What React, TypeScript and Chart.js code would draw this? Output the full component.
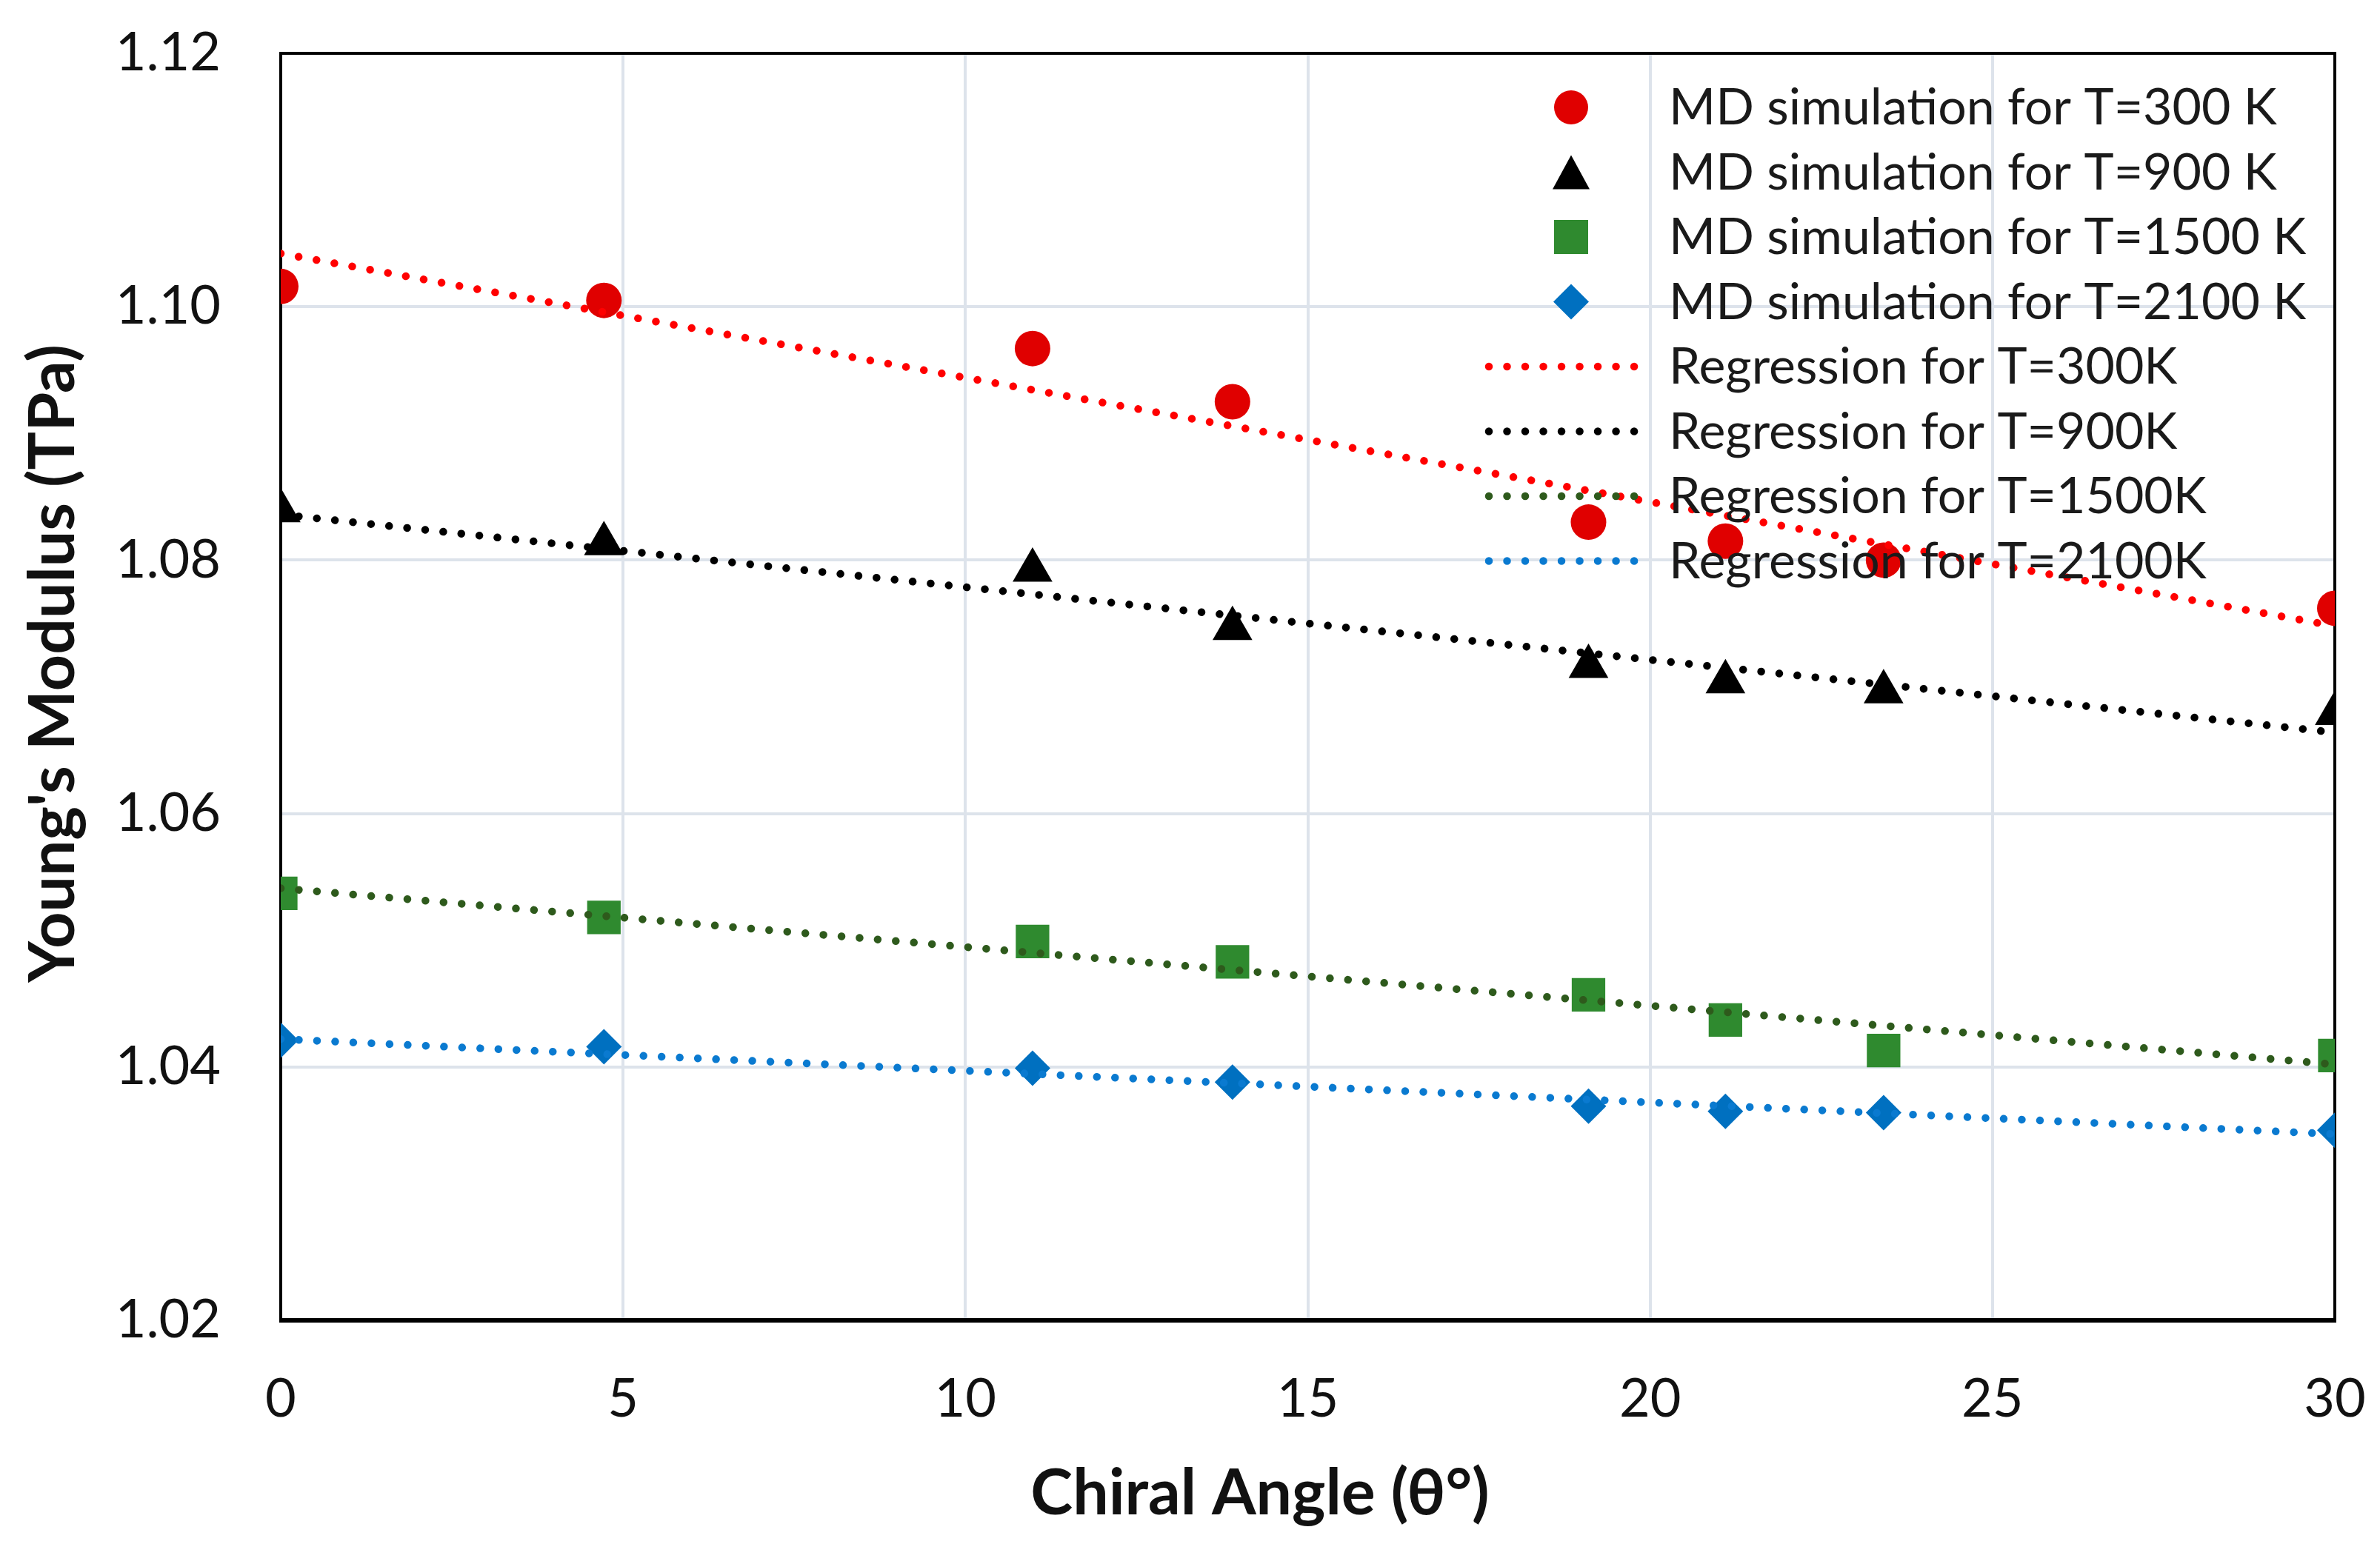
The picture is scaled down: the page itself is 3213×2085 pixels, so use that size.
import React, { useEffect, useRef } from "react";
import { Chart, registerables } from "chart.js";

Chart.register(...registerables);

const chiralAngles = [0, 4.72, 10.98, 13.9, 19.1, 21.1, 23.41, 30];
const modulus300 = [1.1016, 1.1005, 1.0967, 1.0925, 1.083, 1.0815, 1.08, 1.0762];
const modulus900 = [1.0839, 1.0813, 1.0792, 1.0746, 1.0716, 1.0704, 1.0696, 1.0679];
const modulus1500 = [1.0537, 1.0518, 1.0499, 1.0483, 1.0457, 1.0437, 1.0413, 1.0409];
const modulus2100 = [1.0421, 1.0416, 1.0399, 1.0388, 1.0369, 1.0365, 1.0364, 1.035];

const regressionX = [0, 30];
const regression300 = [1.1042, 1.0748];
const regression900 = [1.0836, 1.0664];
const regression1500 = [1.0541, 1.0402];
const regression2100 = [1.0422, 1.0347];

const xTicks = [0, 5, 10, 15, 20, 25, 30];
const yTicks = [1.02, 1.04, 1.06, 1.08, 1.1, 1.12];

const xTitle = "Chiral Angle (θ°)";
const yTitle = "Young's Modulus (TPa)";

const mdLabels = [
  "MD simulation for T=300 K",
  "MD simulation for T=900 K",
  "MD simulation for T=1500 K",
  "MD simulation for T=2100 K",
];
const regLabels = [
  "Regression for T=300K",
  "Regression for T=900K",
  "Regression for T=1500K",
  "Regression for T=2100K",
];

const FONT = "Lato, 'Open Sans', sans-serif";
const markerColors = ["#e00000", "#000000", "#2f8a2f", "#0070c0"];
const lineColors = ["#ff0000", "#000000", "#2e5a1c", "#0a7ad0"];
const markerStyles = ["circle", "triangle", "rect", "rectRot"];
const markerRadius = [24, 31, 32, 24];

const pts = (xs: number[], ys: number[]) => xs.map((x, i) => ({ x, y: ys[i] }));

function drawMarker(ctx: CanvasRenderingContext2D, style: string, x: number, y: number, color: string) {
  ctx.save();
  ctx.fillStyle = color;
  ctx.beginPath();
  if (style === "circle") {
    ctx.arc(x, y, 23, 0, Math.PI * 2);
  } else if (style === "triangle") {
    ctx.moveTo(x, y - 23);
    ctx.lineTo(x + 25, y + 23);
    ctx.lineTo(x - 25, y + 23);
    ctx.closePath();
  } else if (style === "rect") {
    ctx.rect(x - 23, y - 23, 46, 46);
  } else {
    ctx.moveTo(x, y - 24);
    ctx.lineTo(x + 24, y);
    ctx.lineTo(x, y + 24);
    ctx.lineTo(x - 24, y);
    ctx.closePath();
  }
  ctx.fill();
  ctx.restore();
}

const boxPlugin = {
  id: "boxPlugin",
  beforeDatasetsDraw(chart: any) {
    const { ctx, chartArea } = chart;
    ctx.save();
    ctx.strokeStyle = "#000";
    ctx.lineWidth = 4;
    ctx.strokeRect(chartArea.left, chartArea.top, chartArea.right - chartArea.left, chartArea.bottom - chartArea.top);
    ctx.lineWidth = 6;
    ctx.beginPath();
    ctx.moveTo(chartArea.left - 2, chartArea.bottom);
    ctx.lineTo(chartArea.right + 2, chartArea.bottom);
    ctx.stroke();
    ctx.restore();
  },
};

const titlePlugin = {
  id: "axisTitles",
  afterDraw(chart: any) {
    const { ctx } = chart;
    ctx.save();
    ctx.font = `bold 86px ${FONT}`;
    ctx.fillStyle = "#111";
    ctx.textAlign = "center";
    ctx.textBaseline = "middle";
    ctx.fillText(xTitle, 1701, 2017);
    ctx.translate(72, 896);
    ctx.rotate(-Math.PI / 2);
    ctx.fillText(yTitle, 0, 0);
    ctx.restore();
  },
};

const legendPlugin = {
  id: "customLegend",
  afterDraw(chart: any) {
    const { ctx } = chart;
    const markerX = 2121;
    const lineX0 = 2010;
    const lineX1 = 2222;
    const textX = 2253;
    const row0 = 145;
    const rowGap = 87.5;
    ctx.save();
    ctx.font = `68px ${FONT}`;
    ctx.textAlign = "left";
    ctx.textBaseline = "alphabetic";
    for (let i = 0; i < 4; i++) {
      const y = row0 + i * rowGap;
      drawMarker(ctx, markerStyles[i], markerX, y, markerColors[i]);
      ctx.fillStyle = "#1a1a1a";
      ctx.fillText(mdLabels[i], textX, y + 23);
    }
    for (let i = 0; i < 4; i++) {
      const y = row0 + (i + 4) * rowGap;
      ctx.save();
      ctx.strokeStyle = lineColors[i];
      ctx.lineWidth = 10.5;
      ctx.lineCap = "round";
      ctx.setLineDash([0.01, 24.5]);
      ctx.beginPath();
      ctx.moveTo(lineX0, y);
      ctx.lineTo(lineX1, y);
      ctx.stroke();
      ctx.restore();
      ctx.fillStyle = "#1a1a1a";
      ctx.fillText(regLabels[i], textX, y + 23);
    }
    ctx.restore();
  },
};

export default function App() {
  const canvasRef = useRef<HTMLCanvasElement | null>(null);

  useEffect(() => {
    document.body.style.margin = "0";
    const canvas = canvasRef.current;
    if (!canvas) return;
    const mdSets = [modulus300, modulus900, modulus1500, modulus2100];
    const regSets = [regression300, regression900, regression1500, regression2100];

    const datasets: any[] = [];
    regSets.forEach((ys, i) => {
      datasets.push({
        type: "line",
        label: regLabels[i],
        data: pts(regressionX, ys),
        borderColor: lineColors[i],
        borderWidth: 10.5,
        borderDash: [0.01, 24.5],
        borderCapStyle: "round",
        pointRadius: 0,
        fill: false,
        order: 0,
      });
    });
    mdSets.forEach((ys, i) => {
      datasets.push({
        type: "scatter",
        label: mdLabels[i],
        data: pts(chiralAngles, ys),
        showLine: false,
        pointStyle: markerStyles[i],
        pointRadius: markerRadius[i],
        pointBackgroundColor: markerColors[i],
        pointBorderColor: markerColors[i],
        pointBorderWidth: 0,
        order: 1,
      });
    });

    const chart = new Chart(canvas, {
      type: "scatter",
      data: { datasets },
      plugins: [boxPlugin, legendPlugin, titlePlugin],
      options: {
        responsive: false,
        animation: false,
        devicePixelRatio: 1,
        layout: { padding: { top: 72, right: 61, left: 0, bottom: 0 } },
        plugins: {
          legend: { display: false },
          tooltip: { enabled: false },
        },
        scales: {
          x: {
            type: "linear",
            min: 0,
            max: 30,
            afterFit: (scale: any) => {
              scale.height = 2085 - 1783;
              scale.paddingLeft = 0;
              scale.paddingRight = 0;
            },
            afterBuildTicks: (scale: any) => {
              scale.ticks = xTicks.map((v) => ({ value: v }));
            },
            ticks: {
              font: { family: FONT, size: 72 },
              color: "#111",
              padding: 64,
              maxRotation: 0,
            },
            grid: { color: "#dde3eb", lineWidth: 4, drawTicks: false },
            border: { display: false },
            title: { display: false },
          },
          y: {
            type: "linear",
            min: 1.02,
            max: 1.12,
            afterFit: (scale: any) => {
              scale.width = 379;
              scale.paddingTop = 0;
              scale.paddingBottom = 0;
            },
            afterBuildTicks: (scale: any) => {
              scale.ticks = yTicks.map((v) => ({ value: v }));
            },
            ticks: {
              font: { family: FONT, size: 72 },
              color: "#111",
              padding: 81,
              callback: (v: any) => Number(v).toFixed(2),
            },
            grid: { color: "#dde3eb", lineWidth: 4, drawTicks: false },
            border: { display: false },
            title: { display: false },
          },
        },
      },
    } as any);
    return () => chart.destroy();
  }, []);

  return (
    <div style={{ width: 3213, height: 2085 }}>
      <canvas ref={canvasRef} width={3213} height={2085} style={{ display: "block", width: 3213, height: 2085 }} />
    </div>
  );
}
